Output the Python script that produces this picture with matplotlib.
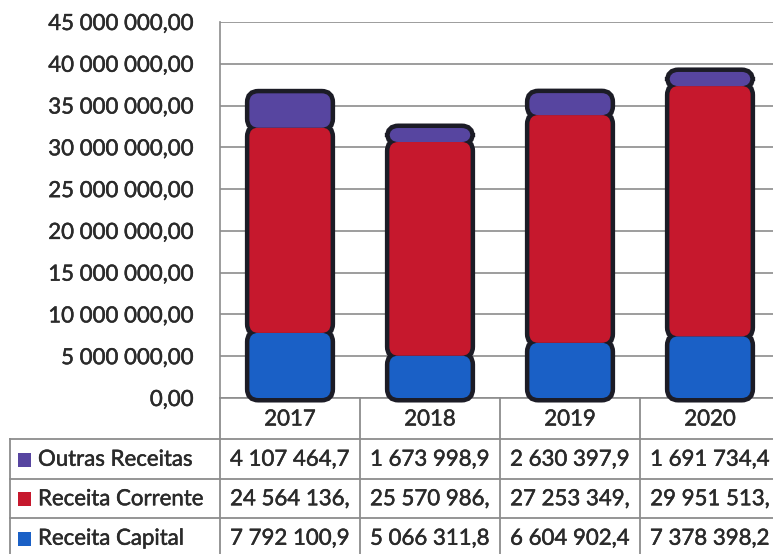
import matplotlib
matplotlib.use("Agg")
import matplotlib.pyplot as plt
import matplotlib.patheffects as pe
from matplotlib.patches import FancyBboxPatch, Rectangle
from matplotlib.lines import Line2D
import numpy as np

plt.rcParams['font.family'] = ['Lato', 'DejaVu Sans']

# ---- data ----
years = ['2017', '2018', '2019', '2020']
receita_capital = [7792100.9, 5066311.8, 6604902.4, 7378398.2]
receita_corrente = [24564136.0, 25570986.0, 27253349.0, 29951513.0]
outras_receitas = [4107464.7, 1673998.9, 2630397.9, 1691734.4]
y_ticks = [0, 5e6, 10e6, 15e6, 20e6, 25e6, 30e6, 35e6, 40e6, 45e6]

# stacking order (bottom -> top) and colours
stack = [
    ('Receita Capital', receita_capital, '#1a60c6'),
    ('Receita Corrente', receita_corrente, '#c6182d'),
    ('Outras Receitas', outras_receitas, '#5745a0'),
]
# table row order (top -> bottom)
table_rows = [stack[2], stack[1], stack[0]]

TEXT = '#2a2a2a'
GRID = '#8c8c8c'
OUTLINE = '#1c1c26'
FS = 16
# light stroke around glyphs for a semibold look
HEAVY = [pe.withStroke(linewidth=0.35, foreground=TEXT)]


def fmt(v, decimals):
    s = f"{v:,.{decimals}f}"
    return s.replace(',', ' ').replace('.', ',')


W, H = 773, 554
fig = plt.figure(figsize=(W / 100, H / 100), dpi=100)


def fx(px):
    return px / W


def fy(py):
    return 1 - py / H


# plot area (pixel layout); the last category runs past the right edge
AX_L, AX_T, AX_B = 220, 22, 398
CAT_W = 140
AX_R = AX_L + CAT_W * len(years)
ax = fig.add_axes([fx(AX_L), fy(AX_B), (AX_R - AX_L) / W, (AX_B - AX_T) / H])
ax.set_xlim(-0.5, len(years) - 0.5)
ax.set_ylim(0, 45e6)

ax.set_yticks(y_ticks)
ax.set_yticklabels([fmt(v, 2) for v in y_ticks])
ax.tick_params(axis='y', length=0, pad=19, labelsize=FS, labelcolor=TEXT)
for lbl in ax.get_yticklabels():
    lbl.set_path_effects(HEAVY)
ax.set_xticks([])
ax.yaxis.grid(True, color=GRID, lw=1.2)
ax.set_axisbelow(True)
for side in ('top', 'right'):
    ax.spines[side].set_visible(False)
for side in ('left', 'bottom'):
    ax.spines[side].set_color(GRID)
    ax.spines[side].set_linewidth(1.2)

# rounded, outlined stacked columns
bar_w = 0.58
x_per_px = len(years) / (AX_R - AX_L)
y_per_px = 45e6 / (AX_B - AX_T)
aspect = y_per_px / x_per_px
r = 9 * x_per_px
style = f"round,pad=0,rounding_size={r}"

for i in range(len(years)):
    bottom = 0.0
    for name, vals, color in stack:
        v = vals[i]
        outline = FancyBboxPatch((i - bar_w / 2, bottom), bar_w, v, boxstyle=style,
                                 mutation_aspect=aspect, fc='none', ec=OUTLINE,
                                 lw=6.5, zorder=3, clip_on=False)
        ax.add_patch(outline)
        fill = FancyBboxPatch((i - bar_w / 2, bottom), bar_w, v, boxstyle=style,
                              mutation_aspect=aspect, fc=color, ec='none',
                              zorder=4, clip_on=False)
        ax.add_patch(fill)
        bottom += v

# ---- data table ----
def hline(y, x0, x1):
    fig.add_artist(Line2D([fx(x0), fx(x1)], [fy(y), fy(y)], color=GRID, lw=1.3))


def vline(x, y0, y1):
    fig.add_artist(Line2D([fx(x), fx(x)], [fy(y0), fy(y1)], color=GRID, lw=1.3))


TAB_L = 10
HDR_B = 439
ROW_H = 39.5
row_tops = [HDR_B + k * ROW_H for k in range(len(table_rows) + 1)]

for y in row_tops:
    hline(y, TAB_L, AX_R)
vline(TAB_L, HDR_B, H)
for k in range(len(years)):
    vline(AX_L + k * CAT_W, AX_B, H)

for k, yr in enumerate(years):
    cx = AX_L + (k + 0.5) * CAT_W
    fig.text(fx(cx), fy((AX_B + HDR_B) / 2 + 1), yr, ha='center', va='center',
             fontsize=FS, color=TEXT, path_effects=HEAVY)

fig.canvas.draw()
renderer = fig.canvas.get_renderer()

for j, (name, vals, color) in enumerate(table_rows):
    cy = (row_tops[j] + row_tops[j + 1]) / 2 + 1
    fig.add_artist(Rectangle((fx(18), fy(cy + 7)), 13 / W, 14 / H, transform=fig.transFigure,
                             fc=color, ec='none'))
    fig.text(fx(38), fy(cy), name, ha='left', va='center', fontsize=FS,
             color=TEXT, path_effects=HEAVY)
    for k in range(len(years)):
        cx = AX_L + (k + 0.5) * CAT_W
        s = fmt(vals[k], 1)
        t = fig.text(fx(cx), fy(cy), s, ha='center', va='center', fontsize=FS,
                     color=TEXT, path_effects=HEAVY)
        # cut the text to the width of the cell
        while t.get_window_extent(renderer).width > CAT_W - 12 and len(s) > 1:
            s = s[:-1]
            t.set_text(s)

fig.savefig('out.png', dpi=100)
